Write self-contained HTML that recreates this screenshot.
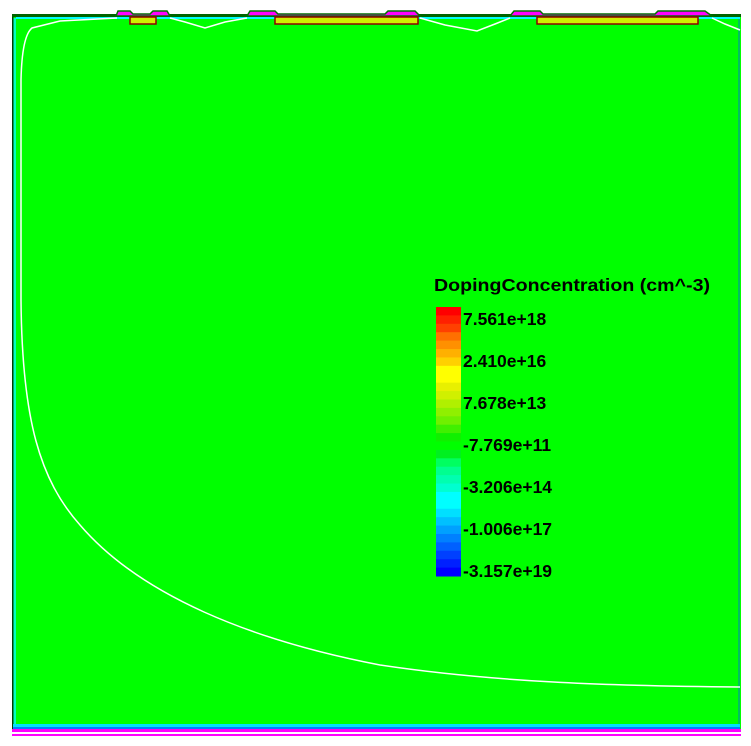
<!DOCTYPE html>
<html><head><meta charset="utf-8"><style>
body{margin:0;background:#fff;width:751px;height:741px;overflow:hidden;font-family:"Liberation Sans",sans-serif}
</style></head><body>
<svg width="751" height="741">
<rect x="0" y="0" width="751" height="741" fill="#fff"/>
<rect x="12" y="15" width="729" height="716" fill="#00ff00"/>
<rect x="13" y="18" width="3" height="712" fill="#00ffc0"/>
<rect x="12" y="15" width="1.5" height="716" fill="#004000"/>
<rect x="738" y="15" width="2" height="716" fill="#00c060"/>
<rect x="13" y="724" width="727" height="3" fill="#00e0ff"/>
<rect x="13" y="727" width="727" height="2" fill="#0080ff"/>
<rect x="12" y="729" width="729" height="3" fill="#ff00ff"/>
<rect x="12" y="734" width="729" height="2" fill="#ff00ff"/>
<rect x="12" y="14" width="729" height="3" fill="#006400"/>
<rect x="16" y="17" width="724" height="2" fill="#00ffff"/>
<g fill="#ff00ff" stroke="#007000" stroke-width="1.5">
<path d="M116,16 L118,11 L130,11 L133,14 L150,14 L153,11 L167,11 L170,16 Z"/>
<path d="M247,16 L250,11 L275,11 L278,14 L385,14 L388,11 L415,11 L420,16 Z"/>
<path d="M510,16 L514,11 L540,11 L543,14 L655,14 L658,11 L705,11 L712,16 Z"/>
</g>
<g fill="#d0f000" stroke="#900000" stroke-width="1.5">
<rect x="130" y="17" width="26" height="7"/>
<rect x="275" y="17" width="143" height="7"/>
<rect x="537" y="17" width="161" height="7"/>
</g>
<g fill="none" stroke="#fff" stroke-width="1.5">
<path d="M117,18 L60,21 L32,28 Q22,36 21,80 L21,300 C22,420 40,480 80,525 C140,595 250,640 380,665 C500,683 620,686 740,687"/>
<path d="M170,18 L185,22 L205,28 L225,22 L247,18"/>
<path d="M420,18 L445,25 L477,31 L495,24 L510,18"/>
<path d="M712,18 L725,24 L740,30"/>
</g>
<text x="434" y="291" font-size="17.5" font-weight="bold" fill="#000" textLength="276" lengthAdjust="spacingAndGlyphs">DopingConcentration (cm^-3)</text>
<g id="cb"></g>
<g font-size="17.5" font-weight="bold" fill="#000">
<text x="463" y="325">7.561e+18</text>
<text x="463" y="367">2.410e+16</text>
<text x="463" y="409">7.678e+13</text>
<text x="463" y="451">-7.769e+11</text>
<text x="463" y="493">-3.206e+14</text>
<text x="463" y="535">-1.006e+17</text>
<text x="463" y="577">-3.157e+19</text>
</g>
</svg>
<script>
const bandColors=["#ff0000","#ff2000","#ff4000","#ff7000","#ff9000","#ffb000","#ffd000","#ffff00","#ffff00","#e8f000","#d0f000","#b0f000","#90f000","#70f000","#40f000","#10f000","#00ff00","#00f020","#00ff60","#00ff90","#00ffb0","#00ffd0","#00ffff","#00ffff","#00e0ff","#00c0ff","#00a0ff","#0080ff","#0060ff","#0040ff","#0020ff","#0000ff"];
const g=document.getElementById('cb');
const top0=307,h=269/bandColors.length;
bandColors.forEach((c,i)=>{
 const r=document.createElementNS('http://www.w3.org/2000/svg','rect');
 
 
 r.setAttribute('x',436);r.setAttribute('y',top0+i*h);
 r.setAttribute('width',25);r.setAttribute('height',h+0.5);
 r.setAttribute('fill',c);g.appendChild(r);
});
</script>
</body></html>
